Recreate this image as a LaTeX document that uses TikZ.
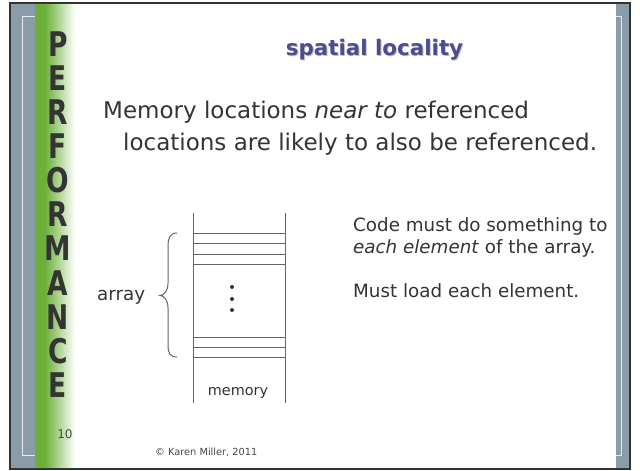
\documentclass[tikz,border=0pt]{standalone}
\usepackage{fontspec}
\setmainfont{DejaVu Sans}
\definecolor{bgblue}{RGB}{138,156,168}
\definecolor{grn}{RGB}{108,176,58}
\definecolor{titleblue}{RGB}{76,76,142}
\definecolor{txt}{RGB}{52,52,52}
\definecolor{diag}{RGB}{100,100,100}
\definecolor{frameline}{RGB}{232,236,239}
\tikzset{
  body/.style={inner sep=0pt, text=txt, font=\fontsize{23}{23}\selectfont},
  side/.style={inner sep=0pt, text=txt, font=\fontsize{18.3}{18.3}\selectfont},
  vletter/.style={inner sep=0pt, text=txt, font=\fontsize{34}{34}\selectfont\bfseries},
  small/.style={inner sep=0pt, text=txt!90, font=\fontsize{9.3}{9.3}\selectfont},
  dline/.style={draw=diag, line width=1pt},
}
\begin{document}
\begin{tikzpicture}[x=1pt,y=-1pt]
\useasboundingbox (0,0) rectangle (640,471);
\fill[white] (0,0) rectangle (640,471);
% slide background
\fill[bgblue] (10,3) rectangle (630,469);
\draw[frameline, line width=1pt] (22,16) rectangle (621,455);
\fill[white] (35,3) rectangle (616,469);
\fill[grn] (35,3) rectangle (45,469);
\shade[left color=grn, right color=white] (45,3) rectangle (75,469);
\draw[black!80, line width=1.6pt] (10,3) rectangle (630,469);
% vertical title
\foreach \ch [count=\i from 0] in {P,E,R,F,O,R,M,A,N,C,E} {
  \node[vletter] (v\i) at (58, 44+34.1*\i) {\scalebox{0.78}[1]{\ch}};
}
% title
\node[inner sep=0pt, anchor=base, text=black!25, font=\fontsize{21.4}{21.4}\selectfont\bfseries] (tshadow) at (375.5,56.2) {spatial locality};
\node[inner sep=0pt, anchor=base, text=titleblue, font=\fontsize{21.4}{21.4}\selectfont\bfseries] (title) at (374.5,55) {spatial locality};
% statement
\node[body, anchor=base west] (l1) at (103,118) {Memory locations \textit{near to} referenced};
\node[body, anchor=base west] (l2) at (123,150) {locations are likely to also be referenced.};
% right text
\node[side, anchor=base west] (r1) at (353,231) {Code must do something to};
\node[side, anchor=base west] (r2) at (353,253) {\textit{each element} of the array.};
\node[side, anchor=base west] (r3) at (353,297) {Must load each element.};
% memory column
\draw[dline] (193,213) -- (193,403);
\draw[dline] (285,213) -- (285,403);
\foreach \yy in {233,243,254,264,337,347,357} {
  \draw[dline] (193,\yy) -- (285,\yy);
}
\foreach \yy in {287,299,310} {
  \fill[txt] (232,\yy) circle (2);
}
\node[inner sep=0pt, anchor=base, text=txt, font=\fontsize{14.4}{14.4}\selectfont] (mem) at (238,395) {memory};
% brace and label
\draw[dline] (177,233) .. controls (170,233) and (168,238) .. (168,246) -- (168,283)
  .. controls (168,291) and (164,295.5) .. (160,295.5)
  .. controls (164,295.5) and (168,300) .. (168,308) -- (168,345)
  .. controls (168,353) and (170,357) .. (177,357);
\node[side, anchor=base west] (arr) at (97,300) {array};
% footer
\node[small, anchor=base] (pg) at (65,438) {\fontsize{12}{12}\selectfont 10};
\node[small, anchor=base west] (copy) at (155,455) {\fontsize{9.8}{9.8}\selectfont © Karen Miller, 2011};
\end{tikzpicture}
\end{document}
